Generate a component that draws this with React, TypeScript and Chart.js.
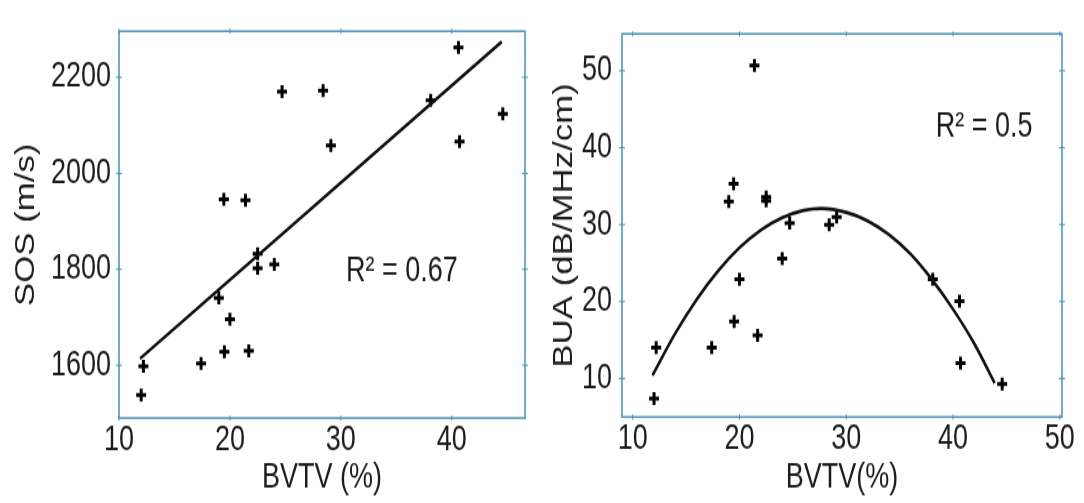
import React, { useEffect, useRef } from 'react';
import { Chart, registerables } from 'chart.js';

Chart.register(...registerables);

// ---- data ----
const BVTV = [12.0, 12.2, 17.4, 19.0, 19.45, 19.5, 20.0, 21.4, 21.7, 22.5, 22.5, 24.0, 24.7, 28.4, 29.1, 38.1, 40.6, 40.7, 44.6];
const SOS = [1538, 1598, 1604, 1740, 1946, 1628, 1696, 1944, 1630, 1832, 1802, 1810, 2170, 2172, 2058, 2152, 2262, 2066, 2124];
const BUA = [7.4, 14.0, 14.0, 33.0, 35.3, 17.4, 22.9, 50.7, 15.6, 33.6, 33.1, 25.6, 30.2, 30.0, 31.0, 22.9, 20.05, 12.0, 9.3];

const SOS_FIT_X = [11.9, 44.5];
const SOS_FIT_Y = [1614, 2274];

const BUA_FIT_X = [11.85, 14, 16, 18, 20, 22, 24, 26, 27.7, 30, 32, 34, 36, 38, 40, 42, 43.9];
const BUA_FIT_Y = [10.4, 15.9, 20.3, 24.0, 27.0, 29.3, 30.9, 31.85, 32.1, 31.6, 30.5, 28.7, 26.2, 22.9, 19.0, 14.5, 9.4];

const LEFT_X_TICKS = [10, 20, 30, 40];
const LEFT_Y_TICKS = [1600, 1800, 2000, 2200];
const RIGHT_X_TICKS = [10, 20, 30, 40, 50];
const RIGHT_Y_TICKS = [10, 20, 30, 40, 50];

const LEFT_TITLE_X = 'BVTV (%)';
const LEFT_TITLE_Y = 'SOS (m/s)';
const RIGHT_TITLE_X = 'BVTV(%)';
const RIGHT_TITLE_Y = 'BUA (dB/MHz/cm)';

const LEFT_NOTE = 'R² = 0.67';
const LEFT_NOTE_AT = [35.5, 1795];
const RIGHT_NOTE = 'R² = 0.5';
const RIGHT_NOTE_AT = [42.9, 42.6];

// ---- styling ----
const FONT_FAMILY = "'Liberation Sans', Arial, sans-serif";
const TEXT_COLOR = '#1c1c1c';
const FRAME_COLOR = '#4a90b4';
const W = 542;
const H = 390; // drawn height, stretched to 503 by CSS
const H_CSS = 503;

const framePlugin = {
  id: 'frame',
  beforeDatasetsDraw(chart: any) {
    const { ctx, chartArea: a, scales } = chart;
    ctx.save();
    ctx.strokeStyle = FRAME_COLOR;
    ctx.lineWidth = 1.5;
    ctx.strokeRect(a.left, a.top, a.right - a.left, a.bottom - a.top);
    ctx.beginPath();
    scales.x.ticks.forEach((t: any) => {
      const px = scales.x.getPixelForValue(t.value);
      ctx.moveTo(px, a.bottom - 2);
      ctx.lineTo(px, a.bottom + 2);
      ctx.moveTo(px, a.top - 2);
      ctx.lineTo(px, a.top + 2);
    });
    scales.y.ticks.forEach((t: any) => {
      const py = scales.y.getPixelForValue(t.value);
      ctx.moveTo(a.left - 3, py);
      ctx.lineTo(a.left + 3, py);
      ctx.moveTo(a.right - 3, py);
      ctx.lineTo(a.right + 3, py);
    });
    ctx.lineWidth = 1;
    ctx.stroke();
    ctx.restore();
  },
  afterDatasetsDraw(chart: any, _args: any, opts: any) {
    if (!opts || !opts.text) return;
    const { ctx, scales } = chart;
    ctx.save();
    ctx.font = `27px ${FONT_FAMILY}`;
    ctx.fillStyle = TEXT_COLOR;
    ctx.textAlign = 'center';
    ctx.textBaseline = 'middle';
    ctx.fillText(opts.text, scales.x.getPixelForValue(opts.at[0]), scales.y.getPixelForValue(opts.at[1]));
    ctx.restore();
  },
};

type PanelCfg = {
  xs: number[];
  ys: number[];
  fitX: number[];
  fitY: number[];
  xMin: number;
  xMax: number;
  yMin: number;
  yMax: number;
  xTicks: number[];
  yTicks: number[];
  xTitle: string;
  yTitle: string;
  yAxisWidth: number;
  xAxisHeight: number;
  padRight: number;
  yTickPad: number;
  yTitlePad: number;
  note: string;
  noteAt: number[];
};

function buildChart(canvas: HTMLCanvasElement, c: PanelCfg) {
  const font = { family: FONT_FAMILY, size: 27 };
  return new Chart(canvas, {
    type: 'scatter',
    data: {
      datasets: [
        {
          data: c.fitX.map((x, i) => ({ x, y: c.fitY[i] })),
          showLine: true,
          borderColor: '#111',
          borderWidth: 2.6,
          pointRadius: 0,
          cubicInterpolationMode: 'monotone',
          fill: false,
        } as any,
        {
          data: c.xs.map((x, i) => ({ x, y: c.ys[i] })),
          showLine: false,
          pointStyle: 'cross',
          pointRadius: 5,
          borderColor: '#000',
          backgroundColor: '#000',
          borderWidth: 3,
        } as any,
      ],
    },
    options: {
      animation: false,
      responsive: false,
      layout: { padding: { top: 10.85, right: c.padRight, left: 0, bottom: 0 } },
      plugins: {
        legend: { display: false },
        tooltip: { enabled: false },
        frame: { text: c.note, at: c.noteAt },
      } as any,
      scales: {
        x: {
          type: 'linear',
          position: 'bottom',
          min: c.xMin,
          max: c.xMax,
          afterBuildTicks: (s: any) => {
            s.ticks = c.xTicks.map((v) => ({ value: v }));
          },
          afterFit: (s: any) => {
            s.height = c.xAxisHeight;
          },
          grid: { display: false, drawTicks: false },
          border: { display: false },
          ticks: {
            font,
            color: TEXT_COLOR,
            padding: 1.5,
            maxRotation: 0,
            autoSkip: false,
            callback: (v: any) => String(v),
          },
          title: {
            display: true,
            text: c.xTitle,
            font,
            color: TEXT_COLOR,
            padding: { top: 0, bottom: 2.8 },
          },
        },
        y: {
          type: 'linear',
          position: 'left',
          min: c.yMin,
          max: c.yMax,
          afterBuildTicks: (s: any) => {
            s.ticks = c.yTicks.map((v) => ({ value: v }));
          },
          afterFit: (s: any) => {
            s.width = c.yAxisWidth;
          },
          grid: { display: false, drawTicks: false },
          border: { display: false },
          ticks: {
            font,
            color: TEXT_COLOR,
            padding: c.yTickPad,
            autoSkip: false,
            callback: (v: any) => String(v),
          },
          title: {
            display: true,
            text: c.yTitle,
            font,
            color: TEXT_COLOR,
            padding: { top: c.yTitlePad, bottom: 0 },
          },
        },
      },
    } as any,
    plugins: [framePlugin as any],
  });
}

export default function App() {
  const leftRef = useRef<HTMLCanvasElement>(null);
  const rightRef = useRef<HTMLCanvasElement>(null);

  useEffect(() => {
    const left = buildChart(leftRef.current!, {
      xs: BVTV,
      ys: SOS,
      fitX: SOS_FIT_X,
      fitY: SOS_FIT_Y,
      xMin: 10,
      xMax: 46.6,
      yMin: 1490,
      yMax: 2296,
      xTicks: LEFT_X_TICKS,
      yTicks: LEFT_Y_TICKS,
      xTitle: LEFT_TITLE_X,
      yTitle: LEFT_TITLE_Y,
      yAxisWidth: 119,
      xAxisHeight: 65.9,
      padRight: 17,
      yTickPad: 8,
      yTitlePad: 10.8,
      note: LEFT_NOTE,
      noteAt: LEFT_NOTE_AT,
    });
    const right = buildChart(rightRef.current!, {
      xs: BVTV,
      ys: BUA,
      fitX: BUA_FIT_X,
      fitY: BUA_FIT_Y,
      xMin: 9,
      xMax: 50.2,
      yMin: 5,
      yMax: 54.8,
      xTicks: RIGHT_X_TICKS,
      yTicks: RIGHT_Y_TICKS,
      xTitle: RIGHT_TITLE_X,
      yTitle: RIGHT_TITLE_Y,
      yAxisWidth: 80,
      xAxisHeight: 66.7,
      padRight: 22,
      yTickPad: 10,
      yTitlePad: 6.8,
      note: RIGHT_NOTE,
      noteAt: RIGHT_NOTE_AT,
    });
    return () => {
      left.destroy();
      right.destroy();
    };
  }, []);

  const canvasStyle: React.CSSProperties = { width: W, height: H_CSS, display: 'block' };

  return (
    <div
      style={{
        position: 'absolute',
        left: 0,
        top: 0,
        width: 1084,
        height: 503,
        background: '#fff',
        overflow: 'hidden',
        display: 'flex',
      }}
    >
      <canvas ref={leftRef} width={W} height={H} style={canvasStyle} />
      <canvas ref={rightRef} width={W} height={H} style={canvasStyle} />
    </div>
  );
}
